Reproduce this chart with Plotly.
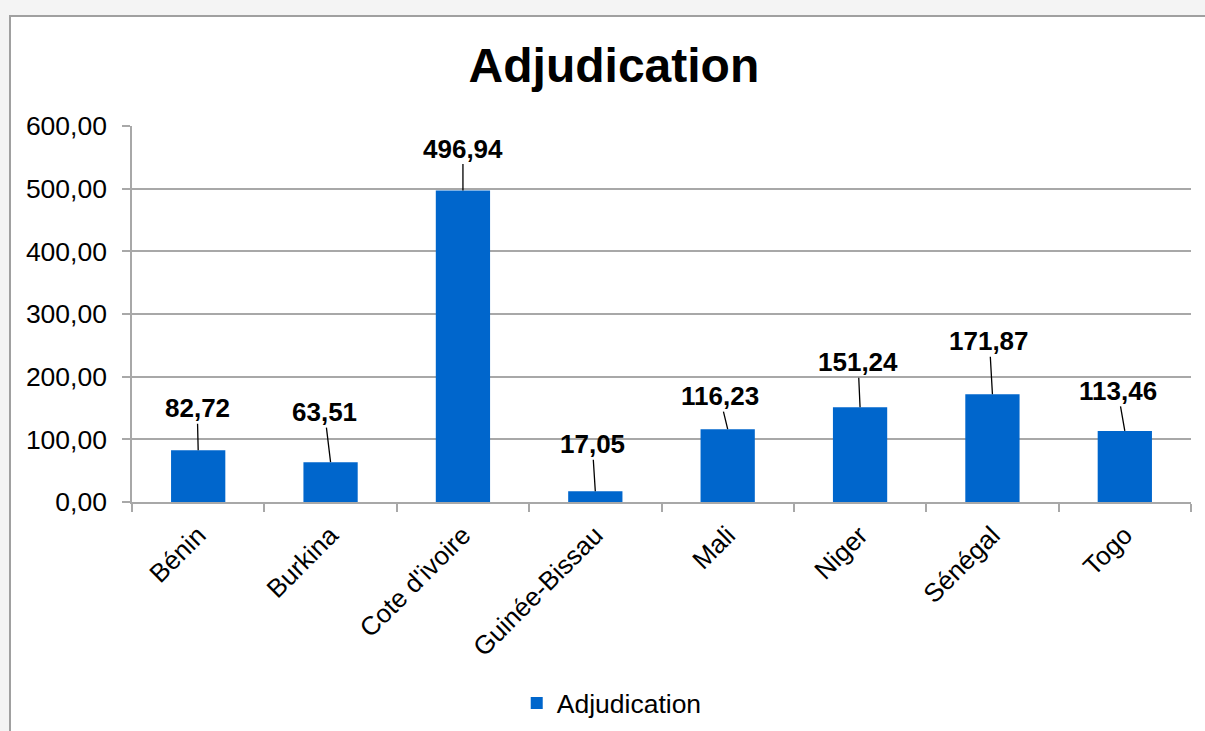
import plotly.graph_objects as go

categories = ["Bénin", "Burkina", "Cote d'ivoire", "Guinée-Bissau", "Mali", "Niger", "Sénégal", "Togo"]
values = [82.72, 63.51, 496.94, 17.05, 116.23, 151.24, 171.87, 113.46]
series_name = "Adjudication"
y_ticks = [0, 100, 200, 300, 400, 500, 600]

# label offsets (pixels) relative to bar top
label_dx = [-1, -6, 0, -3, -8, -2, -3, -7]
label_dy = [-42, -50, -42, -47, -33, -45, -53, -40]

BLUE = "#0066CC"
GRID = "#a8a8a8"
FONT = "Liberation Sans, Arial, sans-serif"

fig = go.Figure()
fig.add_trace(go.Bar(
    x=categories, y=values, name=series_name,
    marker=dict(color=BLUE, line=dict(width=0)),
    width=0.41,
))

fmt = lambda v: f"{v:.2f}".replace(".", ",")
for c, v, dx, dy in zip(categories, values, label_dx, label_dy):
    fig.add_annotation(
        x=c, y=v, xref="x", yref="y", text=f"<b>{fmt(v)}</b>",
        showarrow=True, arrowhead=0, arrowwidth=1.3, arrowcolor="#000000",
        ax=dx, ay=dy, standoff=0, startstandoff=0,
        font=dict(family=FONT, size=26, color="#000000"),
        borderpad=0,
    )

# chart frame
fig.add_shape(type="rect", xref="paper", yref="paper",
              x0=-0.1152, x1=1.2, y0=-0.8, y1=1.2926,
              fillcolor="white", line=dict(color="#a0a0a0", width=2), layer="below")

fig.update_layout(
    width=1205, height=731,
    margin=dict(l=132, r=14, t=126, b=229, autoexpand=False),
    paper_bgcolor="#f4f4f4", plot_bgcolor="white",
    separators=",.",
    font=dict(family=FONT, color="#000000"),
    title=dict(text="<b>Adjudication</b>", x=0.5095, xref="container", xanchor="center",
               y=0.911, yref="container", yanchor="middle",
               font=dict(family=FONT, size=48, color="#000000")),
    showlegend=True,
    legend=dict(orientation="h", x=0.453, xanchor="center", y=-0.535, yanchor="middle",
                font=dict(family=FONT, size=26.5, color="#000000"), bgcolor="rgba(0,0,0,0)"),
)
fig.update_xaxes(
    type="category", tickangle=-45, tickson="boundaries",
    ticks="outside", ticklen=8, tickcolor=GRID, tickwidth=1.5,
    showline=True, linecolor=GRID, linewidth=1.5,
    tickfont=dict(family=FONT, size=26, color="#000000"),
    ticklabelstandoff=6, automargin=False,
    showgrid=False,
)
fig.update_yaxes(
    range=[0, 600], tickvals=y_ticks, tickformat=".2f",
    ticks="outside", ticklen=8, tickcolor=GRID, tickwidth=1.5,
    showline=True, linecolor=GRID, linewidth=1.5,
    showgrid=True, gridcolor=GRID, gridwidth=1.5, zeroline=False,
    tickfont=dict(family=FONT, size=26.5, color="#000000"),
    ticklabelstandoff=10, automargin=False,
)

fig.write_html("out.html", config={"displayModeBar": False},
               post_script="document.body.style.margin='0px';document.body.style.overflow='hidden';")
